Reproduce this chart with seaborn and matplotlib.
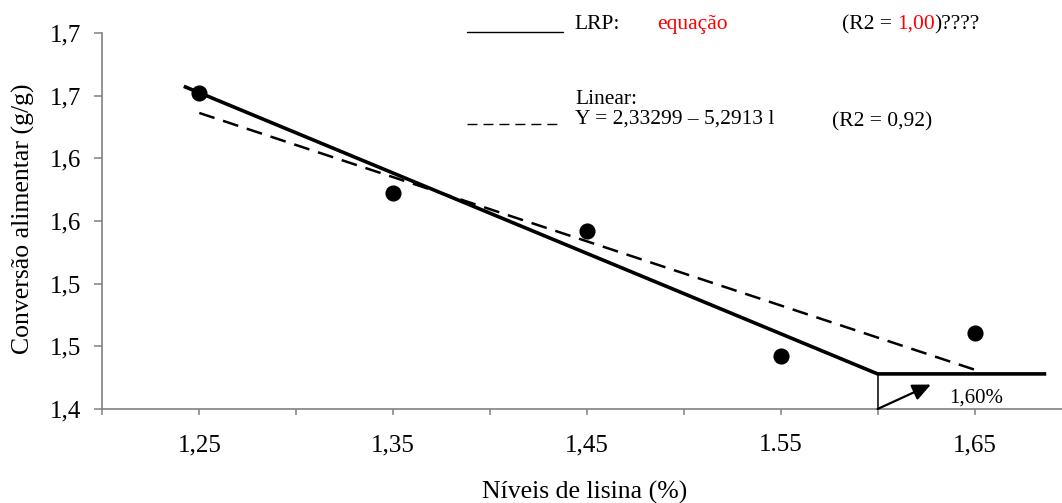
import numpy as np
import pandas as pd
import matplotlib
matplotlib.use("Agg")
import matplotlib.pyplot as plt
from matplotlib.lines import Line2D
import seaborn as sns

# Observed feed conversion at each dietary lysine level
lysine = [1.25, 1.35, 1.45, 1.55, 1.65]
feed_conversion = [1.652, 1.572, 1.542, 1.442, 1.461]

# Linear-response-plateau (LRP) model
lrp_break = 1.60
lrp_plateau = 1.428
lrp_slope = -0.641
lrp_span = [1.242, 1.687]

# Axis ticks and labels
x_ticks = [1.20, 1.25, 1.30, 1.35, 1.40, 1.45, 1.50, 1.55, 1.60, 1.65]
x_tick_labels = ["", "1,25", "", "1,35", "", "1,45", "", "1.55", "", "1,65"]
y_ticks = [1.40, 1.45, 1.50, 1.55, 1.60, 1.65, 1.70]
y_tick_labels = ["1,4", "1,5", "1,5", "1,6", "1,6", "1,7", "1,7"]

W, H = 1062, 503


def px(x, y):
    """Pixel position (from top-left) to figure fraction."""
    return x / W, 1 - y / H


sns.set_theme(style="white")
plt.rcParams["font.family"] = ["Liberation Serif", "DejaVu Serif"]
plt.rcParams["text.color"] = "black"
plt.rcParams["axes.labelcolor"] = "black"
plt.rcParams["xtick.color"] = "black"
plt.rcParams["ytick.color"] = "black"

fig = plt.figure(figsize=(W / 100, H / 100), dpi=100)
left, bottom, top = 102.4, 409, 33
ax = fig.add_axes([left / W, (H - bottom) / H, (W - left) / W, (bottom - top) / H])

df = pd.DataFrame({"lisina": lysine, "ca": feed_conversion})

# Linear regression (dashed)
sns.regplot(data=df, x="lisina", y="ca", ci=None, scatter=False, truncate=True,
            line_kws=dict(color="black", lw=1.8, dashes=(6.4, 3.6)), ax=ax)

# LRP model (solid)
lrp_x = [lrp_span[0], lrp_break, lrp_span[1]]
lrp_y = [lrp_plateau + lrp_slope * (min(v, lrp_break) - lrp_break) for v in lrp_x]
sns.lineplot(x=lrp_x, y=lrp_y, sort=False, color="black", lw=2.6,
             solid_capstyle="butt", ax=ax)

# Observed means
sns.scatterplot(data=df, x="lisina", y="ca", s=135, color="black",
                edgecolor="black", linewidth=0, ax=ax, zorder=4)

# Break point marker
ax.plot([lrp_break, lrp_break], [1.40, lrp_plateau], color="black", lw=1.1)
ax.annotate("", xy=(1.6275, 1.4195), xytext=(lrp_break, 1.40),
            arrowprops=dict(arrowstyle="-|>,head_length=0.55,head_width=0.25",
                            color="black", lw=1.6, mutation_scale=20,
                            shrinkA=0, shrinkB=0))
fig.text(*px(949, 403), "1,60%", fontsize=15, va="baseline", ha="left")

ax.set_xlim(1.20, 1.20 + (W - left) / 1938)
ax.set_ylim(1.40, 1.70)
ax.set_xticks(x_ticks, x_tick_labels)
ax.set_yticks(y_ticks, y_tick_labels)
ax.set_xlabel("")
ax.set_ylabel("")
sns.despine(ax=ax)
for side in ("left", "bottom"):
    ax.spines[side].set_color("#808080")
    ax.spines[side].set_linewidth(1.2)
ax.tick_params(axis="x", which="major", direction="out", length=4, width=1.1,
               color="#808080", labelcolor="black", labelsize=18, pad=14,
               bottom=True)
ax.tick_params(axis="y", which="major", direction="out", length=6, width=1.1,
               color="#808080", labelcolor="black", labelsize=18, pad=9,
               left=True)

# Axis titles
fig.text(*px(23, 219), "Conversão alimentar (g/g)", fontsize=18.5,
         rotation=90, ha="center", va="center")
fig.text(*px(585, 492), "Níveis de lisina (%)", fontsize=18.5,
         ha="center", va="center")

# Equation legend
fs = 15.5
fig.add_artist(Line2D([467 / W, 563 / W], [1 - 32 / H] * 2, color="black", lw=1.0))
fig.text(*px(574, 29), "LRP:", fontsize=fs, va="baseline")
fig.text(*px(657, 29), "equação", fontsize=fs, va="baseline", color="red")
fig.text(*px(842, 29), "(R2 = ", fontsize=fs, va="baseline")
fig.text(*px(897, 29), "1,00", fontsize=fs, va="baseline", color="red")
fig.text(*px(934, 29), ")????", fontsize=fs, va="baseline")

fig.add_artist(Line2D([467 / W, 557 / W], [1 - 124 / H] * 2, color="black",
                      lw=1.0, dashes=(7.2, 4.3)))
fig.text(*px(575, 104), "Linear:", fontsize=fs, va="baseline")
fig.text(*px(575, 124), "Y = 2,33299 – 5,2913 l", fontsize=fs, va="baseline")
fig.text(*px(832, 126), "(R2 = 0,92)", fontsize=fs, va="baseline")

fig.savefig("out.png", dpi=100)
